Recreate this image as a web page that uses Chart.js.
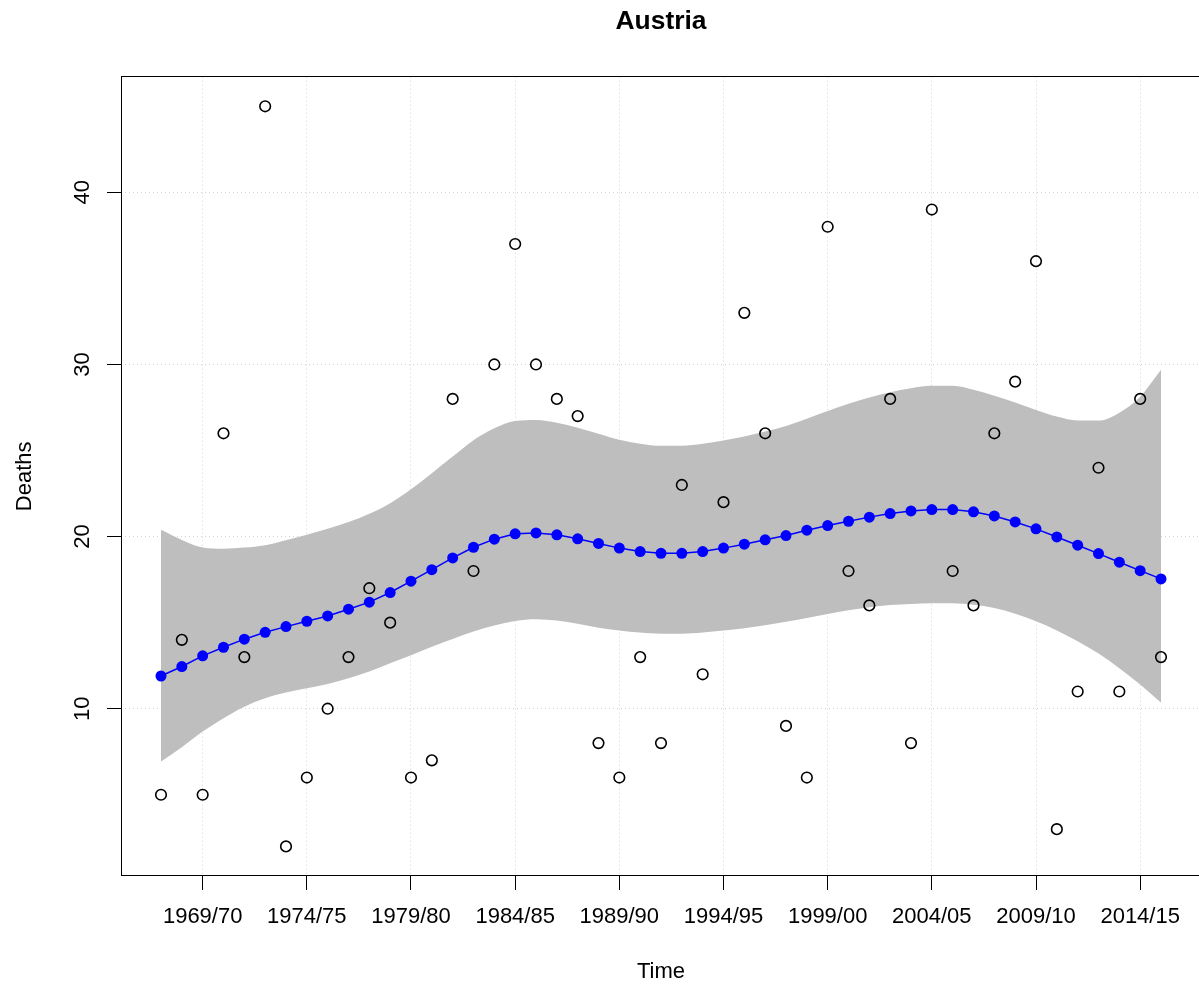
<!DOCTYPE html>
<html>
<head>
<meta charset="utf-8">
<title>Austria</title>
<script src="https://cdn.jsdelivr.net/npm/chart.js@4.4.1/dist/chart.umd.min.js"></script>
<style>
  html, body { margin: 0; padding: 0; background: #fff; overflow: hidden; }
  #wrap { width: 1201px; height: 988px; }
</style>
</head>
<body>
<div id="wrap"><canvas id="chart" width="1201" height="988"></canvas></div>
<script>
// seasons on the x axis, one point per season
const seasons = [
  "1967/68", "1968/69", "1969/70", "1970/71", "1971/72", "1972/73", "1973/74",
  "1974/75", "1975/76", "1976/77", "1977/78", "1978/79", "1979/80", "1980/81",
  "1981/82", "1982/83", "1983/84", "1984/85", "1985/86", "1986/87", "1987/88",
  "1988/89", "1989/90", "1990/91", "1991/92", "1992/93", "1993/94", "1994/95",
  "1995/96", "1996/97", "1997/98", "1998/99", "1999/00", "2000/01", "2001/02",
  "2002/03", "2003/04", "2004/05", "2005/06", "2006/07", "2007/08", "2008/09",
  "2009/10", "2010/11", "2011/12", "2012/13", "2013/14", "2014/15", "2015/16"
];

// observed deaths (open circles)
const deaths = [
  5, 14, 5, 26, 13, 45, 2, 6, 10, 13, 17, 15, 6, 7, 28, 18, 30, 37, 30, 28,
  27, 8, 6, 13, 8, 23, 12, 22, 33, 26, 9, 6, 38, 18, 16, 28, 8, 39, 18, 16,
  26, 29, 36, 3, 11, 24, 11, 28, 13
];

// fitted trend (blue)
const fitted = [
  11.9, 12.45, 13.07, 13.57, 14.04, 14.44, 14.77, 15.08, 15.39, 15.78,
  16.19, 16.75, 17.41, 18.08, 18.76, 19.38, 19.85, 20.16, 20.21, 20.1,
  19.87, 19.6, 19.33, 19.13, 19.03, 19.03, 19.13, 19.33, 19.56, 19.81,
  20.06, 20.37, 20.64, 20.89, 21.13, 21.34, 21.49, 21.57, 21.57, 21.44,
  21.2, 20.85, 20.45, 19.98, 19.5, 19.01, 18.51, 18.02, 17.54
];

// confidence band
const upper = [
  20.39, 19.8, 19.36, 19.29, 19.36, 19.5, 19.79, 20.1, 20.45, 20.84,
  21.32, 21.94, 22.75, 23.68, 24.65, 25.6, 26.3, 26.72, 26.78, 26.62,
  26.33, 25.97, 25.62, 25.39, 25.27, 25.27, 25.39, 25.58, 25.81, 26.1,
  26.43, 26.85, 27.3, 27.72, 28.08, 28.39, 28.62, 28.76, 28.76, 28.53,
  28.18, 27.79, 27.36, 26.97, 26.74, 26.74, 27.2, 28.13, 29.69
];
const lower = [
  6.93, 7.76, 8.67, 9.45, 10.12, 10.61, 10.94, 11.19, 11.44, 11.77,
  12.16, 12.64, 13.1, 13.6, 14.05, 14.48, 14.83, 15.1, 15.2, 15.12,
  14.93, 14.71, 14.54, 14.42, 14.35, 14.35, 14.42, 14.54, 14.68, 14.85,
  15.05, 15.27, 15.5, 15.72, 15.9, 16.02, 16.09, 16.12, 16.12, 16.04,
  15.85, 15.52, 15.08, 14.55, 13.92, 13.2, 12.35, 11.4, 10.35
];

const xTickLabels = ["1969/70", "1974/75", "1979/80", "1984/85", "1989/90",
  "1994/95", "1999/00", "2004/05", "2009/10", "2014/15"];
const yTickValues = [10, 20, 30, 40];

const FONT = "'Liberation Sans', Arial, Helvetica, sans-serif";

function toPoints(values) {
  return values.map((v, i) => ({ x: i, y: v }));
}

// R style box around the plot region
const boxPlugin = {
  id: "box",
  afterDraw(chart) {
    const a = chart.chartArea;
    const ctx = chart.ctx;
    ctx.save();
    ctx.strokeStyle = "#000";
    ctx.lineWidth = 1;
    const l = Math.floor(a.left) + 0.5;
    const t = Math.floor(a.top) + 0.5;
    const b = Math.floor(a.bottom) + 0.5;
    const r = Math.floor(a.right) + 0.5;
    ctx.strokeRect(l, t, r - l, b - t);
    ctx.restore();
  }
};

const gridDots = { color: "#d3d3d3", lineWidth: 1 };

new Chart(document.getElementById("chart"), {
  type: "line",
  data: {
    datasets: [
      {
        label: "upper",
        data: toPoints(upper),
        fill: "+1",
        backgroundColor: "#bebebe",
        borderColor: "transparent",
        borderWidth: 0,
        pointRadius: 0,
        cubicInterpolationMode: "monotone",
        order: 3
      },
      {
        label: "lower",
        data: toPoints(lower),
        fill: false,
        borderColor: "transparent",
        borderWidth: 0,
        pointRadius: 0,
        cubicInterpolationMode: "monotone",
        order: 3
      },
      {
        label: "fitted",
        data: toPoints(fitted),
        borderColor: "#0000ff",
        borderWidth: 1.5,
        pointRadius: 5.5,
        pointBackgroundColor: "#0000ff",
        pointBorderWidth: 0,
        tension: 0,
        order: 2
      },
      {
        label: "deaths",
        data: toPoints(deaths),
        showLine: false,
        pointStyle: "circle",
        pointRadius: 5.3,
        pointBorderWidth: 1.6,
        pointBorderColor: "#000",
        pointBackgroundColor: "transparent",
        order: 1
      }
    ]
  },
  options: {
    responsive: false,
    animation: false,
    devicePixelRatio: 1,
    layout: { padding: 0, autoPadding: false },
    plugins: {
      legend: { display: false },
      tooltip: { enabled: false },
      title: {
        display: true,
        text: "Austria",
        fullSize: false,
        color: "#000",
        font: { family: FONT, size: 26.4, weight: "bold", lineHeight: 1.2 },
        padding: { top: 6, bottom: 39 }
      }
    },
    scales: {
      x: {
        type: "linear",
        min: -1.92,
        max: 49.92,
        afterBuildTicks: (scale) => {
          scale.ticks = xTickLabels.map((l) => ({ value: seasons.indexOf(l) }));
        },
        afterFit: (scale) => {
          scale.height = 112;
          scale.paddingLeft = 0;
          scale.paddingRight = 0;
        },
        grid: {
          color: gridDots.color,
          lineWidth: gridDots.lineWidth,
          drawTicks: true,
          tickLength: 14,
          tickColor: "#000",
          tickWidth: 1,
          tickBorderDash: []
        },
        border: { display: false, dash: [1, 3] },
        ticks: {
          autoSkip: false,
          minRotation: 0,
          maxRotation: 0,
          padding: 14,
          color: "#000",
          font: { family: FONT, size: 22, lineHeight: 1.2 },
          callback: (v) => seasons[v]
        },
        title: {
          display: true,
          text: "Time",
          color: "#000",
          font: { family: FONT, size: 22, lineHeight: 1.2 },
          padding: { top: 0, bottom: 3.3 }
        }
      },
      y: {
        type: "linear",
        min: 0.28,
        max: 46.72,
        afterBuildTicks: (scale) => {
          scale.ticks = yTickValues.map((v) => ({ value: v }));
        },
        afterFit: (scale) => {
          scale.width = 121;
          scale.paddingTop = 0;
          scale.paddingBottom = 0;
        },
        grid: {
          color: gridDots.color,
          lineWidth: gridDots.lineWidth,
          drawTicks: true,
          tickLength: 14,
          tickColor: "#000",
          tickWidth: 1,
          tickBorderDash: []
        },
        border: { display: false, dash: [1, 3] },
        ticks: {
          autoSkip: false,
          minRotation: 90,
          maxRotation: 90,
          crossAlign: "center",
          padding: 12,
          color: "#000",
          font: { family: FONT, size: 22, lineHeight: 1.2 }
        },
        title: {
          display: true,
          text: "Deaths",
          color: "#000",
          font: { family: FONT, size: 22, lineHeight: 1.2 },
          padding: { top: 11.3, bottom: 0 }
        }
      }
    }
  },
  plugins: [boxPlugin]
});
</script>
</body>
</html>
